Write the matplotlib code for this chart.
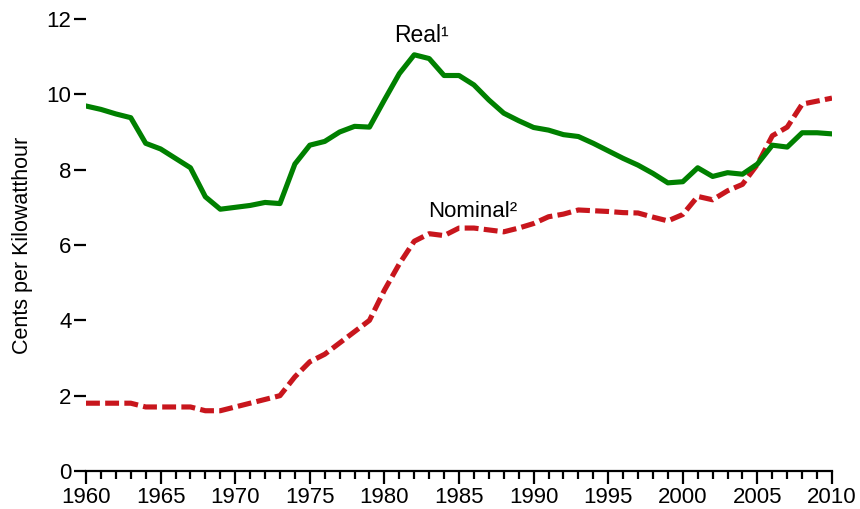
import matplotlib
matplotlib.use("Agg")
import matplotlib.pyplot as plt
from matplotlib.ticker import MultipleLocator

plt.rcParams['font.family'] = ['Liberation Sans', 'DejaVu Sans']
plt.rcParams['lines.scale_dashes'] = False

years = list(range(1960, 2011))
real = [9.69, 9.60, 9.48, 9.38, 8.70, 8.55, 8.30, 8.05, 7.28, 6.95,
        7.00, 7.05, 7.13, 7.10, 8.15, 8.65, 8.75, 9.00, 9.15, 9.13,
        9.85, 10.55, 11.05, 10.95, 10.50, 10.50, 10.25, 9.85, 9.50, 9.30,
        9.12, 9.05, 8.93, 8.88, 8.70, 8.50, 8.30, 8.12, 7.90, 7.65,
        7.68, 8.05, 7.82, 7.92, 7.88, 8.15, 8.65, 8.60, 8.98, 8.98,
        8.95]
nominal = [1.80, 1.80, 1.80, 1.80, 1.70, 1.70, 1.70, 1.70, 1.60, 1.60,
           1.70, 1.80, 1.90, 2.00, 2.50, 2.90, 3.10, 3.40, 3.70, 4.00,
           4.80, 5.50, 6.10, 6.30, 6.25, 6.45, 6.45, 6.40, 6.35, 6.45,
           6.57, 6.75, 6.82, 6.93, 6.91, 6.89, 6.86, 6.85, 6.74, 6.64,
           6.81, 7.29, 7.20, 7.44, 7.61, 8.14, 8.90, 9.13, 9.74, 9.82,
           9.90]

fig = plt.figure(figsize=(8.6, 5.09), dpi=100)
ax = fig.add_axes([86/860, 1-471/509, (832-86)/860, (471-19)/509])

ax.plot(years, real, color='#008000', lw=3.7, solid_joinstyle='round', zorder=3)
ax.plot(years, nominal, color='#C8161D', lw=3.7, dashes=(10, 3.8),
        dash_capstyle='butt', zorder=2)

ax.set_xlim(1960, 2010)
ax.set_ylim(0, 12)
ax.xaxis.set_major_locator(MultipleLocator(5))
ax.xaxis.set_minor_locator(MultipleLocator(1))
ax.yaxis.set_major_locator(MultipleLocator(2))

for s in ['top', 'right', 'left']:
    ax.spines[s].set_visible(False)
ax.spines['bottom'].set_linewidth(1.6)
ax.spines['bottom'].set_zorder(5)

ax.tick_params(axis='y', direction='out', length=8.5, width=1.6, labelsize=16, pad=2)
ax.tick_params(axis='x', which='major', direction='out', length=9.5, width=1.6, labelsize=16, pad=2)
ax.tick_params(axis='x', which='minor', direction='out', length=5.5, width=1.6)

ax.set_ylabel('Cents per Kilowatthour', fontsize=15.5, labelpad=10)

ax.text(1982.45, 11.55, 'Real¹', fontsize=16.5, ha='center', va='center')
ax.text(1985.9, 6.88, 'Nominal²', fontsize=16, ha='center', va='center')

fig.savefig('out.png', dpi=100)
